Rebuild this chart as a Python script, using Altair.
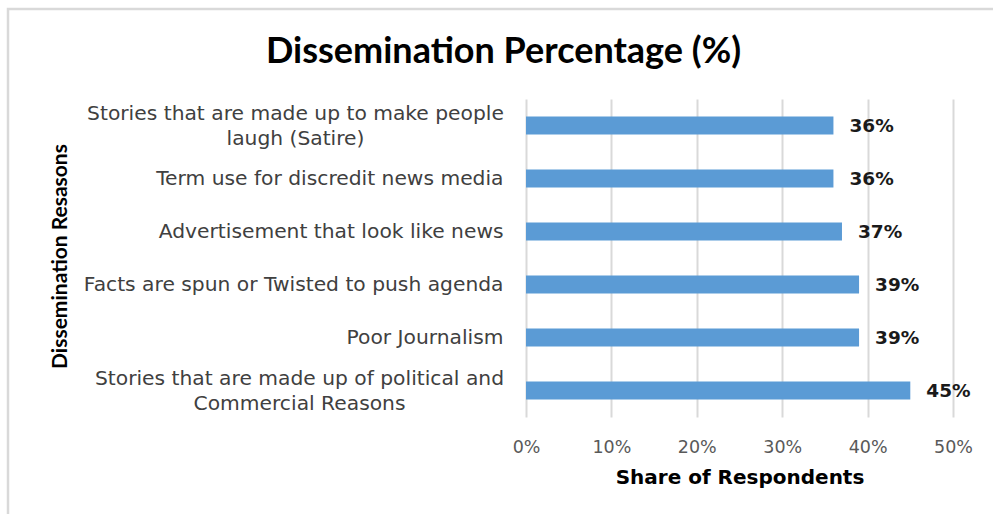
import altair as alt
import pandas as pd

categories = [
    "Stories that are made up to make people\nlaugh (Satire)",
    "Term use for discredit news media",
    "Advertisement that look like news",
    "Facts are spun or Twisted to push agenda",
    "Poor Journalism",
    "Stories that are made up of political and\nCommercial Reasons",
]
values = [0.36, 0.36, 0.37, 0.39, 0.39, 0.45]
x_ticks = [0.0, 0.1, 0.2, 0.3, 0.4, 0.5]

df = pd.DataFrame({"reason": categories, "value": values})

LFONT = "DejaVu Sans"
TFONT = "Lato"
BLUE = "#5B9BD5"

y_enc = alt.Y(
    "reason:N",
    sort=categories,
    title="Dissemination Resasons",
    scale=alt.Scale(paddingInner=0.66, paddingOuter=0.33),
    axis=alt.Axis(
        labelExpr="split(datum.label, '\\n')",
        labelFont=LFONT, labelFontSize=20.25, labelColor="#404040",
        labelAlign=alt.ExprRef("indexof(datum.value, '\\n') >= 0 ? 'center' : 'right'"),
        labelPadding=alt.ExprRef(
            "indexof(datum.value, 'laugh') >= 0 ? 231 : indexof(datum.value, 'Commercial') >= 0 ? 227 : 23"
        ),
        labelOffset=alt.ExprRef("indexof(datum.value, '\\n') >= 0 ? -12 : 0"),
        labelLimit=500, ticks=False, domain=False, grid=False, labelLineHeight=25,
        titleFont=TFONT, titleFontSize=21, titleFontWeight="bold", titleColor="#000000",
        titleX=-466, titleY=157, titleAngle=270, titleAlign="center", titleBaseline="middle",
    ),
)
x_enc = alt.X(
    "value:Q",
    title="Share of Respondents",
    scale=alt.Scale(domain=[0, 0.5], nice=False),
    axis=alt.Axis(
        values=x_ticks, format=".0%", grid=True, gridColor="#d9d9d9", gridWidth=2,
        domain=False, ticks=False, labelFlush=False,
        labelFont=LFONT, labelFontSize=17.5, labelColor="#595959", labelPadding=21,
        titleFont=LFONT, titleFontSize=20, titleFontWeight="bold", titleColor="#000000",
        titlePadding=12,
    ),
)

bars = alt.Chart(df).mark_bar(color=BLUE).encode(x=x_enc, y=y_enc)
text = alt.Chart(df).mark_text(
    align="left", baseline="middle", dx=16, font=LFONT, fontSize=18.5,
    fontWeight="bold", color="#1a1a1a",
).encode(x="value:Q", y=alt.Y("reason:N", sort=categories), text=alt.Text("value:Q", format=".0%"))

border = alt.Chart(pd.DataFrame({"v": [0]})).mark_rect(
    fill=None, stroke="#d9d9d9", strokeWidth=2.5, clip=False
).encode(
    x=alt.value(-518), x2=alt.value(480), y=alt.value(-90), y2=alt.value(120 + 318)
)

chart = alt.layer(border, bars, text).properties(
    width=427,
    height=318,
    background="white",
    autosize=alt.AutoSizeParams(type="none"),
    padding={"left": 526, "top": 99, "right": 40, "bottom": 97},
    title=alt.TitleParams(
        "Dissemination Percentage (%)", font=TFONT, fontSize=36, fontWeight="bold",
        color="#000000", anchor="middle", frame="group", dx=-236, offset=-91,
        baseline="alphabetic",
    ),
).configure_view(stroke="transparent", strokeWidth=0)

chart.save("out.html", embed_options={"renderer": "svg", "actions": False})
